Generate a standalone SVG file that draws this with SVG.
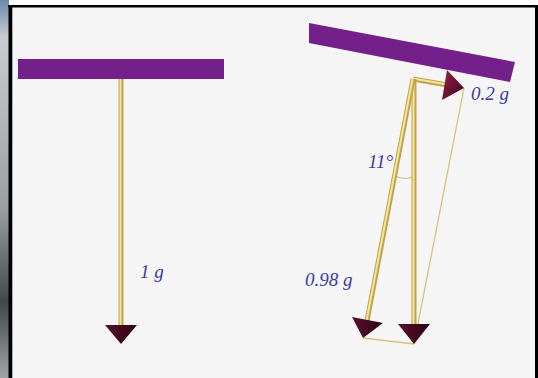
<svg xmlns="http://www.w3.org/2000/svg" width="538" height="378" viewBox="0 0 538 378">
<style>
.bar{fill:#74208a}
.shaft-o{stroke:#c0a448;stroke-width:5;stroke-linecap:butt;fill:none}
.shaft-i{stroke:#f2e4a0;stroke-width:2;fill:none}
.thin{stroke:#d6c47e;stroke-width:1.3;fill:none}
.head{fill:url(#hg)}
.lbl{font-family:"Liberation Serif",serif;font-style:italic;font-size:19px;fill:#3a3aa8}
</style>
<defs>
<linearGradient id="hg" x1="0" y1="0" x2="1" y2="0">
<stop offset="0" stop-color="#5a0f2c"/>
<stop offset="1" stop-color="#2a0514"/>
</linearGradient>
<linearGradient id="hr" x1="0" y1="0" x2="1" y2="1">
<stop offset="0" stop-color="#9a1f4e"/>
<stop offset="1" stop-color="#3a0818"/>
</linearGradient>
<linearGradient id="photo" x1="0" y1="0" x2="0" y2="1">
<stop offset="0" stop-color="#6a8aa8"/>
<stop offset="0.1" stop-color="#c8ccd0"/>
<stop offset="0.55" stop-color="#9aa0a0"/>
<stop offset="0.8" stop-color="#404848"/>
<stop offset="1" stop-color="#a0a4a8"/>
</linearGradient>
</defs>
<rect x="0" y="0" width="538" height="378" fill="#ffffff"/>
<rect x="0" y="0" width="9" height="378" fill="url(#photo)"/>
<rect x="12" y="7" width="523" height="371" fill="#f5f5f5"/>
<rect x="8.5" y="5" width="529.5" height="2.5" fill="#000"/>
<rect x="8.5" y="5" width="3.8" height="373" fill="#000"/>
<rect x="535" y="5" width="3" height="373" fill="#000"/>

<g id="left-diagram">
<rect class="bar" x="18" y="59" width="206" height="20"/>
<line class="shaft-o" x1="121" y1="79" x2="121" y2="326"/>
<line class="shaft-i" x1="120.5" y1="79" x2="120.5" y2="326"/>
<polygon class="head" points="105,325 137,325 121,344"/>
<text class="lbl" x="140" y="278">1 g</text>
</g>

<g id="right-bar">
<polygon class="bar" points="309,23 515,62 510,82 309,43"/>
</g>

<g id="connectors">
<line class="thin" x1="464" y1="88" x2="414" y2="344"/>
<line class="thin" x1="363" y1="338" x2="414" y2="344"/>
<path d="M396.5,176.5 Q404,180 413,177" stroke="#c8b878" stroke-width="1" fill="none"/>
</g>

<g id="vector-0-2g">
<line class="shaft-o" x1="413" y1="79" x2="450" y2="85.5"/>
<line class="shaft-i" x1="413" y1="78.5" x2="450" y2="85"/>
<polygon points="447,70 464,88 442,100" fill="url(#hr)"/>
<text class="lbl" x="471" y="100">0.2 g</text>
</g>

<g id="vector-1g">
<line class="shaft-o" x1="414" y1="79" x2="414" y2="326"/>
<line class="shaft-i" x1="413.5" y1="79" x2="413.5" y2="326"/>
<polygon class="head" points="398,324 430,324 414,344"/>
</g>

<g id="vector-0-98g">
<line class="shaft-o" x1="413" y1="79" x2="367" y2="321"/>
<line class="shaft-i" x1="412.5" y1="79" x2="366.5" y2="321"/>
<polygon class="head" points="352,317 383,323 363,338"/>
<text class="lbl" x="305" y="286">0.98 g</text>
</g>

<g id="angle-label">
<text class="lbl" x="368" y="168">11°</text>
</g>
</svg>
